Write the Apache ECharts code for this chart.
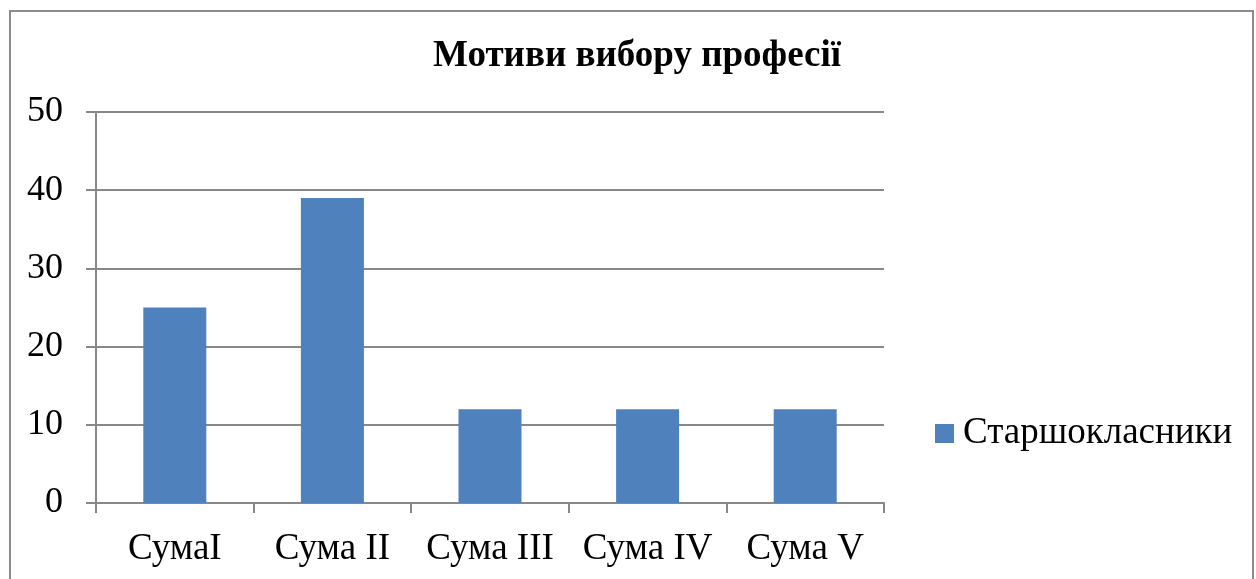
<!DOCTYPE html>
<html>
<head>
<meta charset="utf-8">
<script src="https://cdn.jsdelivr.net/npm/echarts@6/dist/echarts.min.js"></script>
<style>
  html, body { margin: 0; padding: 0; background: #fff; }
  #chart { width: 1256px; height: 579px; }
</style>
</head>
<body>
<div id="chart"></div>
<script>
var categories = ['СумаI', 'Сума II', 'Сума III', 'Сума IV', 'Сума V'];
var seniorValues = [25, 39, 12, 12, 12];
var seriesName = 'Старшокласники';

var chart = echarts.init(document.getElementById('chart'));
var font = '"Liberation Serif", "Times New Roman", serif';

var option = {
    animation: false,
    title: {
        text: 'Мотиви вибору професії',
        left: 632,
        textAlign: 'center',
        top: 33,
        textStyle: { fontFamily: font, fontSize: 37, fontWeight: 'bold', color: '#000' }
    },
    legend: {
        data: [seriesName],
        orient: 'vertical',
        left: 935,
        top: 415,
        padding: 0,
        icon: 'rect',
        itemWidth: 19,
        itemHeight: 19,
        textStyle: { fontFamily: font, fontSize: 37, color: '#000', padding: [0, 0, 0, 4] }
    },
    graphic: [{
        type: 'rect',
        shape: { x: 10, y: 11, width: 1243, height: 620 },
        style: { fill: 'none', stroke: '#8c8c8c', lineWidth: 2 },
        silent: true
    }],
    grid: { left: 96, top: 112, right: 372, bottom: 76 },
    xAxis: {
        type: 'category',
        data: categories,
        axisLine: { lineStyle: { color: '#888', width: 2 } },
        axisTick: { show: true, length: 10, lineStyle: { color: '#888', width: 2 } },
        axisLabel: { fontFamily: font, fontSize: 37, color: '#000', margin: 28, interval: 0 }
    },
    yAxis: {
        type: 'value',
        min: 0,
        max: 50,
        interval: 10,
        axisLine: { show: true, lineStyle: { color: '#888', width: 2 } },
        axisTick: { show: true, length: 10, lineStyle: { color: '#888', width: 2 } },
        splitLine: { lineStyle: { color: '#888', width: 2 } },
        axisLabel: { fontFamily: font, fontSize: 36, color: '#000', margin: 33 }
    },
    series: [{
        name: seriesName,
        type: 'bar',
        data: seniorValues,
        barWidth: 63,
        itemStyle: { color: '#4F81BD' }
    }]
};
chart.setOption(option);
</script>
</body>
</html>
